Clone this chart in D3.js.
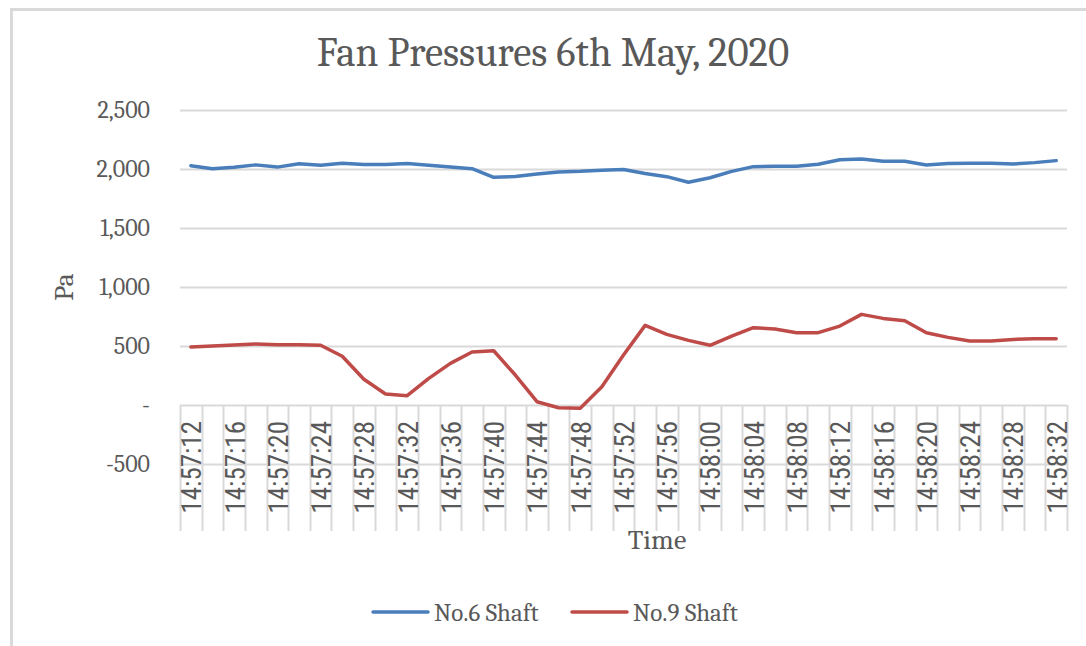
<!DOCTYPE html>
<html>
<head>
<meta charset="utf-8">
<script src="https://cdn.jsdelivr.net/npm/d3@7"></script>
<style>
  body { margin: 0; background: #fff; }
  svg { display: block; }
</style>
</head>
<body>
<svg width="1086" height="646"></svg>
<script>
// sample times (every 2 s) - Excel shows every other one
var times = [
  "14:57:12","14:57:14","14:57:16","14:57:18","14:57:20","14:57:22","14:57:24","14:57:26",
  "14:57:28","14:57:30","14:57:32","14:57:34","14:57:36","14:57:38","14:57:40","14:57:42",
  "14:57:44","14:57:46","14:57:48","14:57:50","14:57:52","14:57:54","14:57:56","14:57:58",
  "14:58:00","14:58:02","14:58:04","14:58:06","14:58:08","14:58:10","14:58:12","14:58:14",
  "14:58:16","14:58:18","14:58:20","14:58:22","14:58:24","14:58:26","14:58:28","14:58:30",
  "14:58:32"
];

var shaft6 = [
  2028, 2002, 2015, 2035, 2016, 2045, 2031, 2049, 2039, 2039, 2046, 2031, 2017, 2003,
  1930, 1936, 1957, 1975, 1980, 1990, 1996, 1962, 1935, 1888, 1926, 1980, 2020, 2023,
  2023, 2040, 2078, 2085, 2065, 2065, 2034, 2047, 2048, 2048, 2042, 2054, 2071
];

var shaft9 = [
  492, 500, 508, 517, 511, 511, 506, 413, 218, 93, 79, 226, 353, 449,
  460, 254, 28, -23, -28, 155, 424, 675, 599, 548, 506, 584, 655, 644,
  613, 613, 669, 768, 734, 714, 612, 573, 542, 542, 556, 562, 562
];

var yTicks = [-500, 0, 500, 1000, 1500, 2000, 2500];

var series = [
  { name: "No.6 Shaft", values: shaft6, color: "#4a7ebb" },
  { name: "No.9 Shaft", values: shaft9, color: "#be4b48" }
];

var svg = d3.select("svg");
var grid = "#d9d9d9", textCol = "#595959";
var serif = "Cambria, 'Liberation Serif', 'DejaVu Serif', serif";

// chart frame (only left + top edges visible in the original)
svg.append("line").attr("x1", 11.5).attr("x2", 11.5).attr("y1", 9).attr("y2", 646)
    .attr("stroke", grid).attr("stroke-width", 3);
svg.append("line").attr("x1", 10).attr("x2", 1086).attr("y1", 9.5).attr("y2", 9.5)
    .attr("stroke", grid).attr("stroke-width", 3);

var x = d3.scaleBand().domain(times).range([180, 1067]);
var y = d3.scaleLinear().domain([-500, 2500]).range([464, 110]);

// horizontal gridlines
svg.append("g").selectAll("line")
  .data(yTicks)
  .enter().append("line")
    .attr("x1", 180).attr("x2", 1067)
    .attr("y1", function(d) { return Math.round(y(d)) + 0.5; })
    .attr("y2", function(d) { return Math.round(y(d)) + 0.5; })
    .attr("stroke", grid).attr("stroke-width", 2);

// y tick labels, accounting format ("-" for zero)
var fmt = d3.format(",");
svg.append("g").selectAll("text")
  .data(yTicks)
  .enter().append("text")
    .attr("x", 150)
    .attr("y", function(d) { return y(d); })
    .attr("dy", "0.35em")
    .attr("text-anchor", "end")
    .attr("font-family", serif).attr("font-size", 24).attr("fill", textCol)
    .text(function(d) { return d === 0 ? "-" : fmt(d).replace("\u2212", "-"); });

// category tick marks (band edges) hanging from the zero line
var edges = times.map(function(t) { return x(t); }).concat([x.range()[1]]);
svg.append("g").selectAll("line")
  .data(edges)
  .enter().append("line")
    .attr("x1", function(d) { return Math.round(d) + 0.5; })
    .attr("x2", function(d) { return Math.round(d) + 0.5; })
    .attr("y1", y(0)).attr("y2", 531)
    .attr("stroke", grid).attr("stroke-width", 2);

// rotated time labels, every other category
svg.append("g").selectAll("text")
  .data(times.filter(function(d, i) { return i % 2 === 0; }))
  .enter().append("text")
    .attr("transform", function(d) {
      return "translate(" + (x(d) + x.bandwidth() / 2 + 1) + "," + (y(0) + 16) + ") rotate(-90)";
    })
    .attr("dy", "0.35em")
    .attr("text-anchor", "end")
    .attr("font-family", "'Liberation Sans Narrow', 'Roboto Condensed', 'Liberation Sans', sans-serif")
    .attr("font-size", 27).attr("fill", textCol)
    .text(function(d) { return d; });

// lines
var line = d3.line()
    .x(function(d, i) { return x(times[i]) + x.bandwidth() / 2; })
    .y(function(d) { return y(d); });

svg.append("g").selectAll("path")
  .data(series)
  .enter().append("path")
    .attr("d", function(d) { return line(d.values); })
    .attr("fill", "none")
    .attr("stroke", function(d) { return d.color; })
    .attr("stroke-width", 3.5)
    .attr("stroke-linejoin", "round")
    .attr("stroke-linecap", "round");

// titles
svg.append("text")
    .attr("x", 553).attr("y", 66)
    .attr("text-anchor", "middle")
    .attr("font-family", serif).attr("font-size", 41).attr("fill", textCol)
    .text("Fan Pressures 6th May, 2020");

svg.append("text")
    .attr("transform", "translate(73,287) rotate(-90)")
    .attr("text-anchor", "middle")
    .attr("font-family", serif).attr("font-size", 28).attr("fill", textCol)
    .text("Pa");

svg.append("text")
    .attr("x", 657).attr("y", 549)
    .attr("text-anchor", "middle")
    .attr("font-family", serif).attr("font-size", 28).attr("fill", textCol)
    .text("Time");

// legend
var legX = [373, 572];
var leg = svg.append("g").selectAll("g")
  .data(series)
  .enter().append("g")
    .attr("transform", function(d, i) { return "translate(" + legX[i] + ",612)"; });

leg.append("line")
    .attr("x1", 0).attr("x2", 55)
    .attr("stroke", function(d) { return d.color; })
    .attr("stroke-width", 3.5).attr("stroke-linecap", "round");

leg.append("text")
    .attr("x", 61).attr("dy", "0.35em")
    .attr("font-family", serif).attr("font-size", 25).attr("fill", textCol)
    .text(function(d) { return d.name; });
</script>
</body>
</html>
